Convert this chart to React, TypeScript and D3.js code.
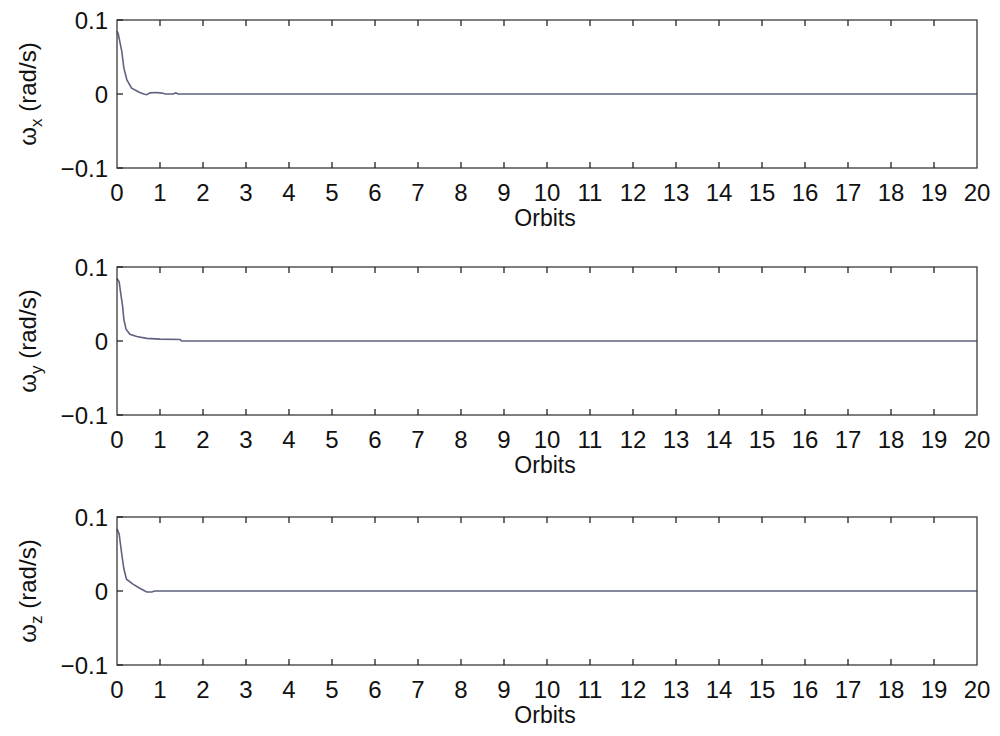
import React from "react";
import * as d3 from "d3";

const xTicks = d3.range(0, 21);
const yTicks = [-0.1, 0, 0.1];
const yTickLabels = ["\u22120.1", "0", "0.1"];

const wxT = [0, 0.03, 0.11, 0.16, 0.23, 0.34, 0.53, 0.62, 0.69, 0.77, 0.9, 1.0, 1.07, 1.12, 1.3, 1.37, 1.42, 1.5, 20];
const wxV = [0.085, 0.081, 0.058, 0.035, 0.019, 0.008, 0.002, 0.0, -0.001, 0.0015, 0.002, 0.0015, 0.001, 0.0, 0.0, 0.0015, 0.0, 0, 0];

const wyT = [0, 0.05, 0.085, 0.13, 0.16, 0.21, 0.3, 0.46, 0.69, 1.0, 1.47, 1.5, 20];
const wyV = [0.0845, 0.08, 0.065, 0.047, 0.029, 0.016, 0.009, 0.006, 0.0036, 0.0025, 0.002, 0, 0];

const wzT = [0, 0.05, 0.11, 0.16, 0.22, 0.38, 0.53, 0.69, 0.81, 0.88, 20];
const wzV = [0.084, 0.077, 0.05, 0.03, 0.016, 0.009, 0.0037, -0.0014, -0.0014, 0, 0];

const panels = [
  { sub: "x", t: wxT, v: wxV, top: 20 },
  { sub: "y", t: wyT, v: wyV, top: 267 },
  { sub: "z", t: wzT, v: wzV, top: 517 },
];

const LEFT = 117;
const RIGHT = 977;
const H = 148;
const FONT = "'Liberation Sans', Arial, sans-serif";

function Panel({ sub, t, v, top }: { sub: string; t: number[]; v: number[]; top: number }) {
  const x = d3.scaleLinear().domain([0, 20]).range([LEFT, RIGHT]);
  const y = d3.scaleLinear().domain([-0.1, 0.1]).range([top + H, top]);
  const pts: [number, number][] = t.map((ti, i) => [ti, v[i]]);
  const line = d3
    .line<[number, number]>()
    .x((d) => x(d[0]))
    .y((d) => y(d[1]));
  const bottom = top + H;
  const tl = 6;
  return (
    <g>
      <path d={line(pts) || ""} fill="none" stroke="#5f6280" strokeWidth={1.6} />
      <rect x={LEFT} y={top} width={RIGHT - LEFT} height={H} fill="none" stroke="#3a3a3a" strokeWidth={1.3} />
      {xTicks.slice(1, -1).map((tk) => (
        <g key={tk}>
          <line x1={x(tk)} x2={x(tk)} y1={bottom} y2={bottom - tl} stroke="#222" strokeWidth={1.3} />
          <line x1={x(tk)} x2={x(tk)} y1={top} y2={top + tl} stroke="#222" strokeWidth={1.3} />
        </g>
      ))}
      {yTicks.map((tk) => (
        <line key={tk} x1={LEFT} x2={LEFT + tl} y1={y(tk)} y2={y(tk)} stroke="#222" strokeWidth={1.3} />
      ))}
      {xTicks.map((tk) => (
        <text key={tk} x={x(tk)} y={bottom + 33} textAnchor="middle" fontFamily={FONT} fontSize={24} fill="#111">
          {tk}
        </text>
      ))}
      {yTicks.map((tk, i) => (
        <text key={tk} x={LEFT - 9} y={y(tk)} dy="0.36em" textAnchor="end" fontFamily={FONT} fontSize={24} fill="#111">
          {yTickLabels[i]}
        </text>
      ))}
      <text x={(LEFT + RIGHT) / 2 - 2} y={bottom + 58} textAnchor="middle" fontFamily={FONT} fontSize={23} fill="#111">
        Orbits
      </text>
      <text
        transform={`translate(36,${top + H / 2}) rotate(-90)`}
        textAnchor="middle"
        fontFamily={FONT}
        fontSize={24}
        fill="#111"
      >
        ω
        <tspan fontSize={17} dy={6}>{sub}</tspan>
        <tspan dy={-6}> (rad/s)</tspan>
      </text>
    </g>
  );
}

export default function App() {
  return (
    <svg width={1000} height={736} style={{ position: "absolute", left: 0, top: 0, background: "#fff" }}>
      <rect x={0} y={0} width={1000} height={736} fill="#fff" />
      {panels.map((p) => (
        <Panel key={p.sub} {...p} />
      ))}
    </svg>
  );
}
